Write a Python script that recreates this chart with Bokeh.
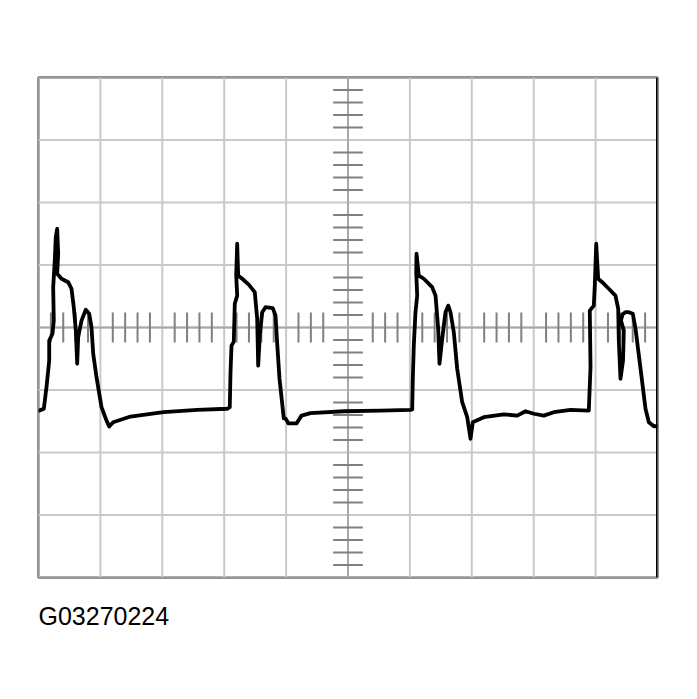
from bokeh.plotting import figure
from bokeh.models import Span, Title
from bokeh.embed import file_html
from bokeh.resources import INLINE

# Screen divisions (oscilloscope graticule)
x_divs = list(range(0, 11))      # 10 horizontal divisions
y_divs = list(range(-4, 5))      # 8 vertical divisions
minor_step = 0.2
tick_half_x = 0.24               # half-length of horizontal-axis minor ticks (in y divisions)
tick_half_y = 0.24               # half-length of vertical-axis minor ticks (in x divisions)

# Waveform trace (x in divisions, y in divisions from centre)
trace_x = [0.01, 0.086, 0.129, 0.173, 0.173, 0.226, 0.247, 0.237, 0.263, 0.279, 0.302, 0.318,
           0.302, 0.372, 0.48, 0.533, 0.57, 0.603, 0.625, 0.641, 0.695, 0.764, 0.819, 0.856,
           0.884, 0.937, 1.018, 1.099, 1.142, 1.207, 1.486, 2.019, 2.564, 3.048,
           3.09, 3.102, 3.118, 3.155, 3.171, 3.21, 3.194, 3.21, 3.226, 3.291, 3.397, 3.494,
           3.533, 3.549, 3.575, 3.614, 3.667, 3.785, 3.829, 3.853, 3.893, 3.963, 3.99, 4.039,
           4.168, 4.249, 4.394, 4.932, 5.525, 6.01,
           6.037, 6.047, 6.063, 6.09, 6.118, 6.102, 6.107, 6.144, 6.225, 6.36, 6.414, 6.457,
           6.478, 6.522, 6.575, 6.619, 6.656, 6.709, 6.764, 6.845, 6.926, 6.979, 7.016, 7.194,
           7.517, 7.733, 7.868, 8.002, 8.163, 8.325, 8.595, 8.89,
           8.918, 8.906, 8.971, 8.987, 9.01, 9.042, 9.107, 9.213, 9.321, 9.365, 9.375, 9.402,
           9.443, 9.456, 9.41, 9.435, 9.483, 9.536, 9.601, 9.645, 9.726, 9.806, 9.86, 9.941, 10.0]
trace_y = [-1.33, -1.30, -0.955, -0.53, -0.21, -0.10, 0.11, 0.645, 1.07, 1.445, 1.58, 1.18,
           0.86, 0.78, 0.725, 0.62, 0.325, -0.05, -0.58, -0.155, 0.11, 0.285, 0.22, 0.005,
           -0.42, -0.795, -1.275, -1.49, -1.585, -1.515, -1.425, -1.355, -1.317, -1.30,
           -1.275, -0.715, -0.29, -0.225, 0.38, 0.51, 0.83, 1.34, 0.83, 0.78, 0.685, 0.565,
           0.14, -0.61, -0.13, 0.245, 0.325, 0.31, 0.19, -0.21, -0.815, -1.455, -1.455, -1.535,
           -1.535, -1.41, -1.37, -1.34, -1.33, -1.317,
           -1.31, -0.82, -0.29, 0.245, 0.51, 0.885, 1.18, 0.83, 0.78, 0.645, 0.51, -0.02,
           -0.58, -0.18, 0.245, 0.35, 0.245, -0.075, -0.66, -1.195, -1.435, -1.78, -1.515, -1.435,
           -1.39, -1.41, -1.34, -1.38, -1.41, -1.355, -1.317, -1.33,
           -0.635, 0.27, 0.35, 0.67, 1.34, 0.78, 0.725, 0.62, 0.51, 0.30, -0.21, -0.82,
           -0.53, -0.05, 0.11, 0.21, 0.245, 0.245, 0.22, -0.02, -0.66, -1.30, -1.515, -1.58, -1.58]

label_text = "G03270224"

p = figure(width=677, height=677, output_backend="svg", toolbar_location=None,
           x_range=(x_divs[0], x_divs[-1]), y_range=(y_divs[0], y_divs[-1]),
           x_axis_location=None, y_axis_location=None,
           min_border_left=38, min_border_right=20, min_border_top=77, min_border_bottom=100,
           frame_width=619, frame_height=500)
p.grid.visible = False
p.background_fill_color = "white"
p.border_fill_color = "white"
p.outline_line_color = "#6e6e6e"
p.outline_line_width = 2.5

x_mid = (x_divs[0] + x_divs[-1]) / 2
y_mid = (y_divs[0] + y_divs[-1]) / 2

# grid lines
p.segment(x0=x_divs, y0=[y_divs[0]] * len(x_divs), x1=x_divs, y1=[y_divs[-1]] * len(x_divs),
          line_color="#c9c9c9", line_width=2)
p.segment(x0=[x_divs[0]] * len(y_divs), y0=y_divs, x1=[x_divs[-1]] * len(y_divs), y1=y_divs,
          line_color="#c9c9c9", line_width=2)
# centre axes
p.segment(x0=[x_mid, x_divs[0]], y0=[y_divs[0], y_mid], x1=[x_mid, x_divs[-1]], y1=[y_divs[-1], y_mid],
          line_color="#a8a8a8", line_width=2)

# minor ticks on horizontal centre line
nx = int(round((x_divs[-1] - x_divs[0]) / minor_step))
mx = [x_divs[0] + i * minor_step for i in range(nx + 1)]
mx = [v for v in mx if abs(v - round(v)) > 1e-6 and abs(v - x_mid) > minor_step + 1e-6]
p.segment(x0=mx, y0=[y_mid - tick_half_x] * len(mx), x1=mx, y1=[y_mid + tick_half_x] * len(mx),
          line_color="#808080", line_width=2)
# minor ticks on vertical centre line
ny = int(round((y_divs[-1] - y_divs[0]) / minor_step))
my = [y_divs[0] + i * minor_step for i in range(ny + 1)]
my = [v for v in my if abs(v - round(v)) > 1e-6]
p.segment(x0=[x_mid - tick_half_y] * len(my), y0=my, x1=[x_mid + tick_half_y] * len(my), y1=my,
          line_color="#808080", line_width=2)

# waveform
p.line(trace_x, trace_y, line_color="black", line_width=3.8, line_join="round", line_cap="round")

# right edge of screen in black
p.add_layout(Span(location=x_divs[-1], dimension="height", line_color="black", line_width=3))

p.add_layout(Title(text=label_text, align="left", text_font="Liberation Sans",
                   text_font_size="25px", text_font_style="normal", text_color="black",
                   standoff=45), "below")

open("out.html", "w").write(file_html(p, INLINE))
